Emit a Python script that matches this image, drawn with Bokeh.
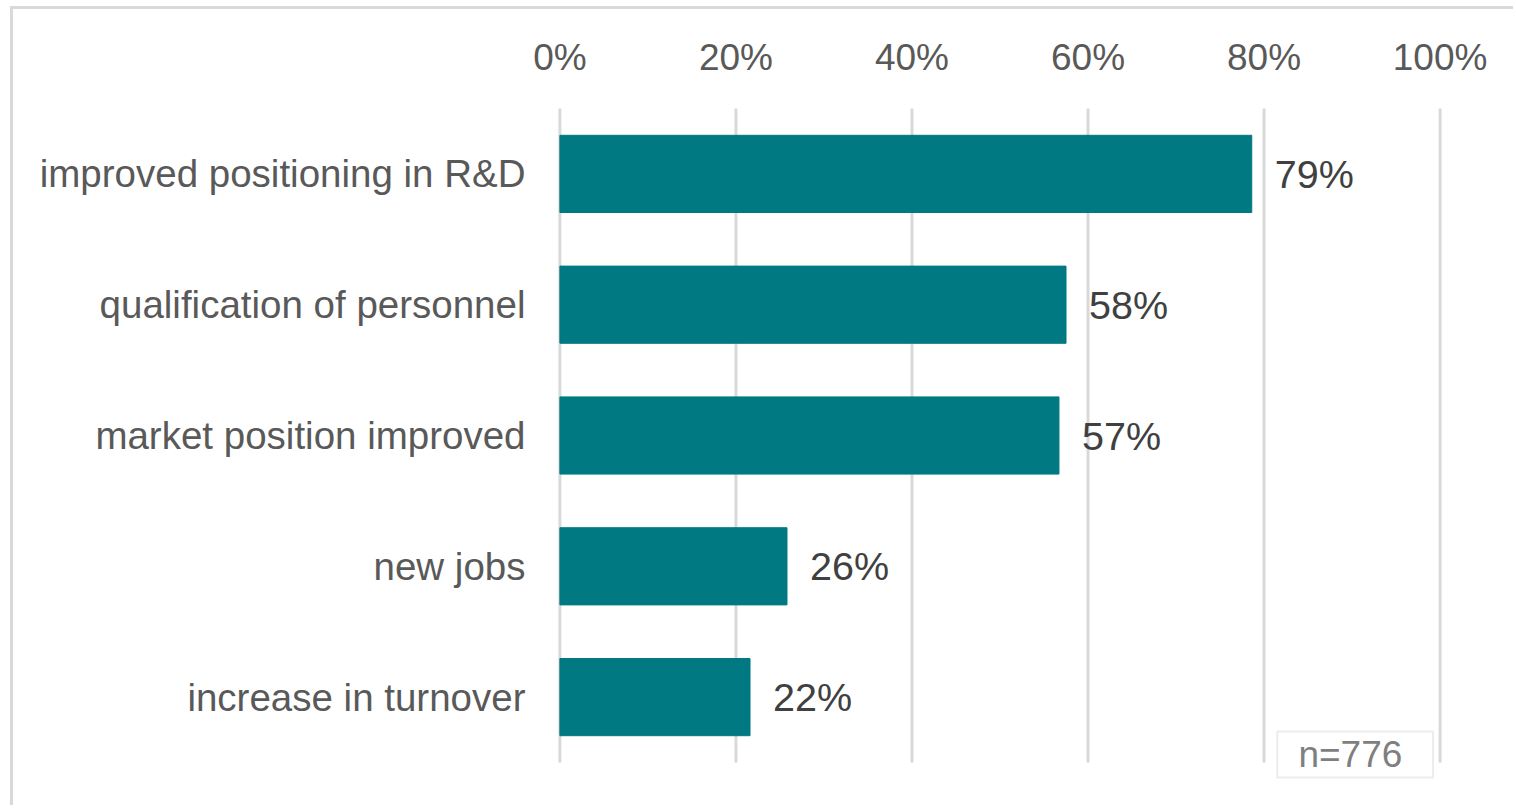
from bokeh.plotting import figure
from bokeh.models import FactorRange, Range1d, FixedTicker, PrintfTickFormatter, ColumnDataSource, Label, BoxAnnotation
from bokeh.embed import file_html
from bokeh.resources import INLINE
from bokeh.core.properties import value

categories = ["improved positioning in R&D", "qualification of personnel",
              "market position improved", "new jobs", "increase in turnover"]
values = [78.6, 57.5, 56.7, 25.8, 21.6]
labels = ["79%", "58%", "57%", "26%", "22%"]
ticks = [0, 20, 40, 60, 80, 100]
note = "n=776"

FONT = "Liberation Sans"
PAD = 0.1376  # category units of padding above/below

p = figure(width=1503, height=799,
           y_range=FactorRange(factors=categories[::-1], range_padding=PAD,
                               range_padding_units="absolute"),
           x_range=Range1d(-0.5, 100.5), x_axis_location="above",
           output_backend="svg", toolbar_location=None,
           min_border_left=542, min_border_right=72,
           min_border_top=81, min_border_bottom=28,
           margin=(6, 0, 0, 10),
           styles={"border-left": "3px solid #D9D9D9",
                   "border-top": "3px solid #D9D9D9"})
p.outline_line_color = None
p.background_fill_color = "white"
p.border_fill_color = "white"

# vertical gridlines at the ticks, spanning the category area only
n = len(categories)
p.segment(x0=ticks, x1=ticks, y0=[0] * len(ticks), y1=[n] * len(ticks),
          line_color="#D9D9D9", line_width=3)

src = ColumnDataSource(dict(cat=categories, val=values, lab=labels))
p.hbar(y="cat", right="val", left=0, height=0.59, source=src,
       fill_color="#007983", line_color="#007983")
p.text(x="val", y="cat", text="lab", source=src, x_offset=23,
       text_baseline="middle", text_align="left",
       text_font=value(FONT), text_font_size="39.5px", text_color="#404040")

xa = p.xaxis[0]
xa.ticker = FixedTicker(ticks=ticks)
xa.formatter = PrintfTickFormatter(format="%d%%")
xa.axis_line_color = None
xa.major_tick_line_color = None
xa.major_tick_out = 0
xa.major_tick_in = 0
xa.minor_tick_line_color = None
xa.major_label_text_font = FONT
xa.major_label_text_font_size = "37px"
xa.major_label_text_color = "#595959"
xa.major_label_standoff = 13

ya = p.yaxis[0]
ya.axis_line_color = None
ya.major_tick_line_color = None
ya.major_tick_out = 0
ya.major_tick_in = 0
ya.major_label_text_font = FONT
ya.major_label_text_font_size = "38.5px"
ya.major_label_text_color = "#595959"
ya.major_label_standoff = 30

p.xgrid.grid_line_color = None
p.ygrid.grid_line_color = None

box = BoxAnnotation(left=81.5, right=99.2, bottom=-0.115, top=0.237,
                    fill_alpha=0, line_color="#BFBFBF", line_width=2)
p.add_layout(box)
p.add_layout(Label(x=83.9, y=0.061, text=note, text_baseline="middle",
                   text_align="left", text_font=FONT, text_font_size="37px",
                   text_color="#7F7F7F"))

open("out.html", "w").write(file_html(p, INLINE))
